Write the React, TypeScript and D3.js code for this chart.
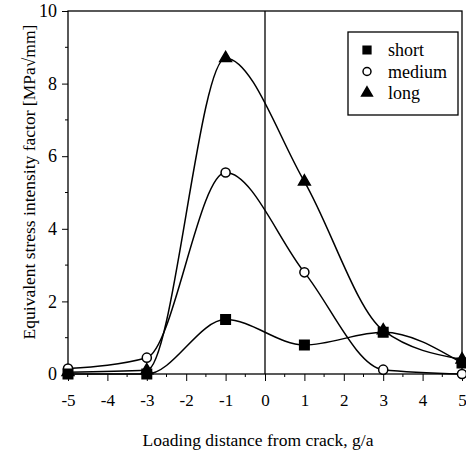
import React, { useEffect, useRef } from "react";
import * as d3 from "d3";

// loading distance g/a
const distances = [-5, -3, -1, 1, 3, 5];
// equivalent stress intensity factor per crack length
const shortValues = [0, 0, 1.5, 0.8, 1.15, 0.3];
const mediumValues = [0.15, 0.45, 5.55, 2.8, 0.12, 0];
const longValues = [0.05, 0.1, 8.7, 5.3, 1.2, 0.4];

const xTicks = [-5, -4, -3, -2, -1, 0, 1, 2, 3, 4, 5];
const yTicks = [0, 2, 4, 6, 8, 10];
const legendLabels = ["short", "medium", "long"];

const App: React.FC = () => {
  const svgRef = useRef<SVGSVGElement>(null);

  useEffect(() => {
    if (!svgRef.current) return;
    const W = 466;
    const H = 453;
    const svg = d3.select(svgRef.current);
    svg.selectAll("*").remove();
    svg.attr("width", W).attr("height", H);

    const font = "'Liberation Serif', 'Times New Roman', serif";

    const x = d3.scaleLinear().domain([-5, 5]).range([68, 462]);
    const y = d3.scaleLinear().domain([0, 10]).range([374, 11]);

    const g = svg.append("g");

    // frame
    g.append("rect")
      .attr("x", x(-5))
      .attr("y", y(10))
      .attr("width", x(5) - x(-5))
      .attr("height", y(0) - y(10))
      .attr("fill", "none")
      .attr("stroke", "#000")
      .attr("stroke-width", 1.3);

    // vertical line at crack
    g.append("line")
      .attr("x1", x(0))
      .attr("x2", x(0))
      .attr("y1", y(10))
      .attr("y2", y(0))
      .attr("stroke", "#000")
      .attr("stroke-width", 1.3);

    // X AXIS
    const xAxis = g
      .append("g")
      .attr("transform", `translate(0,${y(0)})`)
      .call(
        d3.axisBottom(x).tickValues(xTicks).tickSize(7).tickPadding(13).tickFormat(d => String(d))
      );
    xAxis.attr("font-family", font).attr("font-size", 17);
    xAxis.select(".domain").remove();
    xAxis.selectAll("text").attr("fill", "#000");

    // minor x ticks
    g.selectAll(".xminor")
      .data(d3.range(-4.5, 5, 1))
      .enter()
      .append("line")
      .attr("x1", d => x(d))
      .attr("x2", d => x(d))
      .attr("y1", y(0))
      .attr("y2", y(0) + 3)
      .attr("stroke", "#000");

    // Y AXIS
    const yAxis = g
      .append("g")
      .attr("transform", `translate(${x(-5)},0)`)
      .call(d3.axisLeft(y).tickValues(yTicks).tickSize(6).tickPadding(5).tickFormat(d => String(d)));
    yAxis.attr("font-family", font).attr("font-size", 18);
    yAxis.select(".domain").remove();
    yAxis.selectAll("text").attr("fill", "#000");

    g.selectAll(".yminor")
      .data([1, 3, 5, 7, 9])
      .enter()
      .append("line")
      .attr("x1", x(-5) - 3)
      .attr("x2", x(-5))
      .attr("y1", d => y(d))
      .attr("y2", d => y(d))
      .attr("stroke", "#000");

    // LINES
    const series = [
      { name: "long", values: longValues },
      { name: "medium", values: mediumValues },
      { name: "short", values: shortValues }
    ];

    const line = d3
      .line<number>()
      .x((_, i) => x(distances[i]))
      .y(d => y(d))
      .curve(d3.curveMonotoneX);

    series.forEach(s => {
      g.append("path")
        .datum(s.values)
        .attr("d", line)
        .attr("fill", "none")
        .attr("stroke", "#000")
        .attr("stroke-width", 1.5);
    });

    const symbolFor = (name: string) =>
      name === "short"
        ? d3.symbol().type(d3.symbolSquare).size(90)
        : name === "medium"
        ? d3.symbol().type(d3.symbolCircle).size(65)
        : d3.symbol().type(d3.symbolTriangle).size(60);

    series.forEach(s => {
      g.selectAll(null)
        .data(s.values)
        .enter()
        .append("path")
        .attr("transform", (d, i) => `translate(${x(distances[i])},${y(d)})`)
        .attr("d", symbolFor(s.name)())
        .attr("fill", s.name === "medium" ? "#fff" : "#000")
        .attr("stroke", "#000")
        .attr("stroke-width", 1.5);
    });

    // LEGEND
    const legend = g.append("g");
    legend
      .append("rect")
      .attr("x", 348)
      .attr("y", 32)
      .attr("width", 110)
      .attr("height", 83)
      .attr("fill", "#fff")
      .attr("stroke", "#000")
      .attr("stroke-width", 1.3);

    legendLabels.forEach((label, i) => {
      const ly = 50 + i * 21.5;
      legend
        .append("path")
        .attr("transform", `translate(367,${ly})`)
        .attr("d", symbolFor(label).size(label === "short" ? 60 : 50)())
        .attr("fill", label === "medium" ? "#fff" : "#000")
        .attr("stroke", "#000")
        .attr("stroke-width", 1.5);
      legend
        .append("text")
        .attr("x", 388)
        .attr("y", ly)
        .attr("dy", "0.35em")
        .attr("font-family", font)
        .attr("font-size", 18)
        .text(label);
    });

    // AXIS TITLES
    svg
      .append("text")
      .attr("x", 258)
      .attr("y", 440)
      .attr("dy", "0.35em")
      .attr("text-anchor", "middle")
      .attr("font-family", font)
      .attr("font-size", 17.5)
      .text("Loading distance from crack, g/a");

    svg
      .append("text")
      .attr("transform", "translate(29,182) rotate(-90)")
      .attr("dy", "0.35em")
      .attr("text-anchor", "middle")
      .attr("font-family", font)
      .attr("font-size", 17.5)
      .text("Equivalent stress intensity factor [MPa\u221Amm]");
  }, []);

  return (
    <svg
      ref={svgRef}
      style={{ position: "absolute", left: 0, top: 0, background: "#fff" }}
    ></svg>
  );
};

export default App;
